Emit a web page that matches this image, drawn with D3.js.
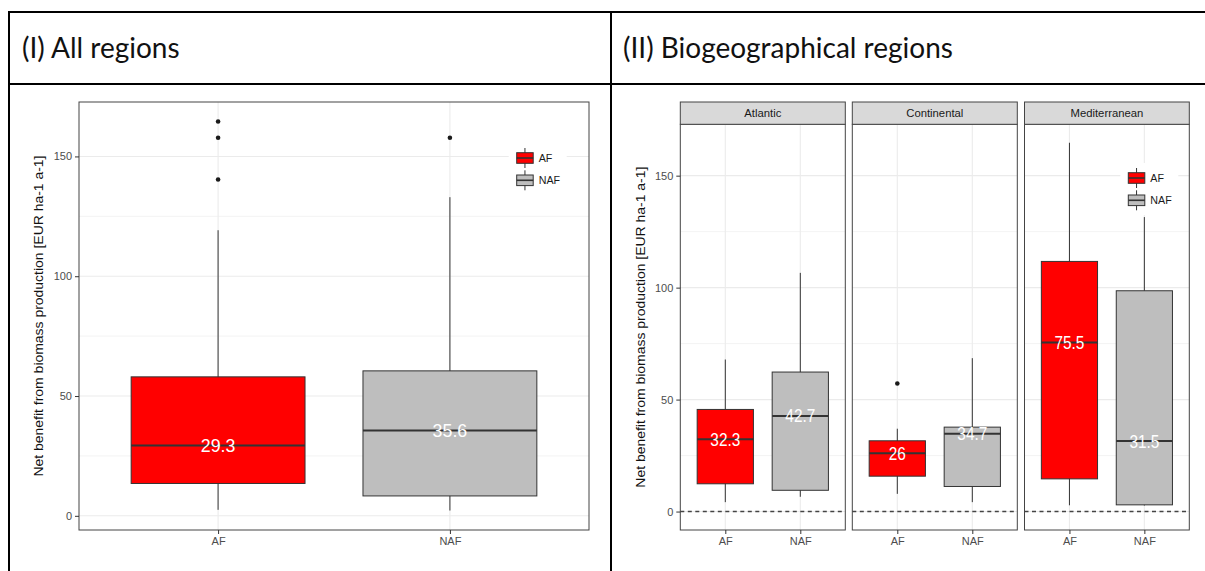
<!DOCTYPE html>
<html>
<head>
<meta charset="utf-8">
<script src="https://cdn.jsdelivr.net/npm/d3@7"></script>
<style>
  body { margin: 0; background: #fff; }
  svg { display: block; font-family: "Liberation Sans", Arial, sans-serif; }
</style>
</head>
<body>
<div id="chart"></div>
<script>
// ---------- data ----------
const groups = ['AF', 'NAF'];
const groupFill = ['#ff0000', '#bebebe'];
const regions = ['Atlantic', 'Continental', 'Mediterranean'];
const yTicks = [0, 50, 100, 150];
const yMinor = [25, 75, 125];

// box stats per group: [lower whisker, Q1, median, Q3, upper whisker]
const allStats = [[2.5, 13.5, 29.3, 58.0, 119.2], [2.2, 8.3, 35.6, 60.5, 133.0]];
const allOutliers = [[164.6, 157.8, 140.4], [157.8]];

const atlanticStats = [[4.2, 12.4, 32.3, 45.6, 67.9], [6.6, 9.5, 42.7, 62.3, 106.6]];
const continentalStats = [[7.9, 15.8, 26, 31.6, 37.0], [4.2, 11.2, 34.7, 37.7, 68.5]];
const mediterraneanStats = [[2.8, 14.6, 75.5, 111.7, 164.7], [2.7, 3.0, 31.5, 98.6, 131.5]];
const atlanticOutliers = [[], []];
const continentalOutliers = [[57.2], []];
const mediterraneanOutliers = [[], []];

(function () {
  const W = 1205, H = 571;
  const yTitle = 'Net benefit from biomass production [EUR ha-1 a-1]';

  const svg = d3.select('#chart').append('svg')
    .attr('width', W)
    .attr('height', H);

  // ---------- outer table ----------
  const frame = svg.append('g').attr('stroke', '#000').attr('stroke-width', 2);
  frame.append('line').attr('x1', 8).attr('x2', W).attr('y1', 12).attr('y2', 12);
  frame.append('line').attr('x1', 8).attr('x2', W).attr('y1', 84).attr('y2', 84);
  frame.append('line').attr('x1', 9).attr('x2', 9).attr('y1', 11).attr('y2', H);
  frame.append('line').attr('x1', 611).attr('x2', 611).attr('y1', 11).attr('y2', H);

  svg.append('text').attr('x', 22).attr('y', 58)
    .attr('font-family', 'Lato, "Open Sans", sans-serif').attr('font-size', 28)
    .attr('fill', '#111').text('(I) All regions');
  svg.append('text').attr('x', 623).attr('y', 58)
    .attr('font-family', 'Lato, "Open Sans", sans-serif').attr('font-size', 28)
    .attr('fill', '#111').text('(II) Biogeographical regions');

  // ggplot-style 5% expansion
  function paddedDomain(values) {
    const [lo, hi] = d3.extent(values);
    const pad = (hi - lo) * 0.05;
    return [lo - pad, hi + pad];
  }

  const regionStats = [atlanticStats, continentalStats, mediterraneanStats];
  const regionOutliers = [atlanticOutliers, continentalOutliers, mediterraneanOutliers];

  const yAll = d3.scaleLinear()
    .domain(paddedDomain([...allStats.flat(), ...allOutliers.flat()]))
    .range([530, 102]);
  // the dashed zero line is part of the scale in the faceted plot
  const yReg = d3.scaleLinear()
    .domain(paddedDomain([0, ...regionStats.flat(2), ...regionOutliers.flat(2)]))
    .range([530, 124.3]);

  // ---------- one facet ----------
  function drawFacet(g, x, y, stats, outliers, opt) {
    const [x0, x1] = x.range();
    const [yb, yt] = y.range();
    const bw = x.step() * 0.75;

    g.append('rect').attr('x', x0).attr('y', yt).attr('width', x1 - x0).attr('height', yb - yt)
      .attr('fill', '#fff');

    g.selectAll('.minor').data(yMinor).join('line').attr('class', 'minor')
      .attr('x1', x0).attr('x2', x1).attr('y1', d => y(d)).attr('y2', d => y(d))
      .attr('stroke', '#ebebeb').attr('stroke-width', 0.6);
    g.selectAll('.major').data(yTicks).join('line').attr('class', 'major')
      .attr('x1', x0).attr('x2', x1).attr('y1', d => y(d)).attr('y2', d => y(d))
      .attr('stroke', '#ebebeb').attr('stroke-width', 1.1);
    g.selectAll('.vgrid').data(groups).join('line').attr('class', 'vgrid')
      .attr('x1', d => x(d)).attr('x2', d => x(d)).attr('y1', yt).attr('y2', yb)
      .attr('stroke', '#ebebeb').attr('stroke-width', 1.1);

    if (opt.zeroLine) {
      g.append('line').attr('x1', x0).attr('x2', x1).attr('y1', y(0)).attr('y2', y(0))
        .attr('stroke', '#444').attr('stroke-width', 1.4).attr('stroke-dasharray', '4,3.5');
    }

    const box = g.selectAll('.box').data(groups).join('g').attr('class', 'box');
    box.append('line')
      .attr('x1', d => x(d)).attr('x2', d => x(d))
      .attr('y1', (d, i) => y(stats[i][0])).attr('y2', (d, i) => y(stats[i][4]))
      .attr('stroke', '#333').attr('stroke-width', 1);
    box.append('rect')
      .attr('x', d => x(d) - bw / 2).attr('width', bw)
      .attr('y', (d, i) => y(stats[i][3]))
      .attr('height', (d, i) => y(stats[i][1]) - y(stats[i][3]))
      .attr('fill', (d, i) => groupFill[i])
      .attr('stroke', '#333').attr('stroke-width', 1);
    box.append('line')
      .attr('x1', d => x(d) - bw / 2).attr('x2', d => x(d) + bw / 2)
      .attr('y1', (d, i) => y(stats[i][2])).attr('y2', (d, i) => y(stats[i][2]))
      .attr('stroke', '#333').attr('stroke-width', 2);
    box.selectAll('circle').data((d, i) => outliers[i].map(v => ({ g: d, v })))
      .join('circle')
      .attr('cx', d => x(d.g)).attr('cy', d => y(d.v)).attr('r', 2.3)
      .attr('fill', '#1a1a1a');

    // median labels (slightly stretched vertically in the source)
    box.append('text')
      .attr('transform', (d, i) => `translate(${x(d)},${y(stats[i][2])}) scale(1,${opt.stretch})`)
      .attr('text-anchor', 'middle').attr('dy', '0.36em')
      .attr('font-size', opt.labelSize).attr('fill', '#fff')
      .text((d, i) => String(stats[i][2]));

    g.append('rect').attr('x', x0).attr('y', yt).attr('width', x1 - x0).attr('height', yb - yt)
      .attr('fill', 'none').attr('stroke', '#444').attr('stroke-width', 1);

    // x axis
    const xa = g.append('g').attr('transform', `translate(0,${yb})`)
      .call(d3.axisBottom(x).tickSize(4).tickPadding(3));
    styleAxis(xa);

    if (opt.strip) {
      g.append('rect').attr('x', x0).attr('y', opt.strip[0])
        .attr('width', x1 - x0).attr('height', opt.strip[1] - opt.strip[0])
        .attr('fill', '#d9d9d9').attr('stroke', '#444').attr('stroke-width', 1);
      g.append('text').attr('x', (x0 + x1) / 2).attr('y', (opt.strip[0] + opt.strip[1]) / 2)
        .attr('dy', '0.35em').attr('text-anchor', 'middle')
        .attr('font-size', 11.3).attr('fill', '#1a1a1a').text(opt.stripText);
    }
  }

  function styleAxis(a) {
    a.select('.domain').remove();
    a.selectAll('.tick line').attr('stroke', '#333');
    a.selectAll('.tick text').attr('fill', '#4d4d4d').attr('font-size', 11)
      .attr('font-family', '"Liberation Sans", Arial, sans-serif');
  }

  function drawYAxis(g, x0, y, titleX) {
    const ya = g.append('g').attr('transform', `translate(${x0},0)`)
      .call(d3.axisLeft(y).tickValues(yTicks).tickSize(4).tickPadding(3));
    styleAxis(ya);
    const [yb, yt] = y.range();
    // the source stretches this title along its length
    g.append('text')
      .attr('transform', `translate(${titleX},${(yb + yt) / 2}) rotate(-90)`)
      .attr('text-anchor', 'middle').attr('dy', '0.35em')
      .attr('textLength', 321).attr('lengthAdjust', 'spacingAndGlyphs')
      .attr('font-size', 12.8).attr('fill', '#111').text(yTitle);
  }

  function drawLegend(g, lx, ly) {
    const pitch = 22.3, kw = 16.5;
    g.append('rect').attr('x', lx - 8).attr('y', ly - 15).attr('width', 58).attr('height', 52)
      .attr('fill', '#fff');
    const item = g.selectAll('.key').data(groups).join('g').attr('class', 'key')
      .attr('transform', (d, i) => `translate(${lx},${ly + i * pitch})`);
    item.append('line').attr('x1', kw / 2).attr('x2', kw / 2).attr('y1', -10).attr('y2', 10)
      .attr('stroke', '#333').attr('stroke-width', 1);
    item.append('rect').attr('x', 0).attr('y', -5.3).attr('width', kw).attr('height', 10.6)
      .attr('fill', (d, i) => groupFill[i]).attr('stroke', '#333').attr('stroke-width', 1);
    item.append('line').attr('x1', 0).attr('x2', kw).attr('y1', 0).attr('y2', 0)
      .attr('stroke', '#333').attr('stroke-width', 1.6);
    item.append('text').attr('x', kw + 5.5).attr('dy', '0.35em')
      .attr('font-size', 10.7).attr('fill', '#1a1a1a').text(d => d);
  }

  // ---------- (I) all regions ----------
  const left = svg.append('g');
  const xAll = d3.scalePoint().domain(groups).range([79, 589]).padding(0.6);
  drawFacet(left, xAll, yAll, allStats, allOutliers, { stretch: 1.07, labelSize: 17.8 });
  drawYAxis(left, 79, yAll, 38.5);
  drawLegend(left, 516.7, 158);

  // ---------- (II) biogeographical regions ----------
  const right = svg.append('g');
  const facetX = [[680.3, 845.3], [852.3, 1017.3], [1024.5, 1189.3]];
  regions.forEach((r, k) => {
    const fx = d3.scalePoint().domain(groups).range(facetX[k]).padding(0.6);
    drawFacet(right.append('g'), fx, yReg, regionStats[k], regionOutliers[k], {
      stretch: 1.18, labelSize: 15.4, zeroLine: true, strip: [102, 124.3], stripText: r
    });
  });
  drawYAxis(right, facetX[0][0], yReg, 641);
  drawLegend(right, 1128.3, 178);
})();
</script>
</body>
</html>
